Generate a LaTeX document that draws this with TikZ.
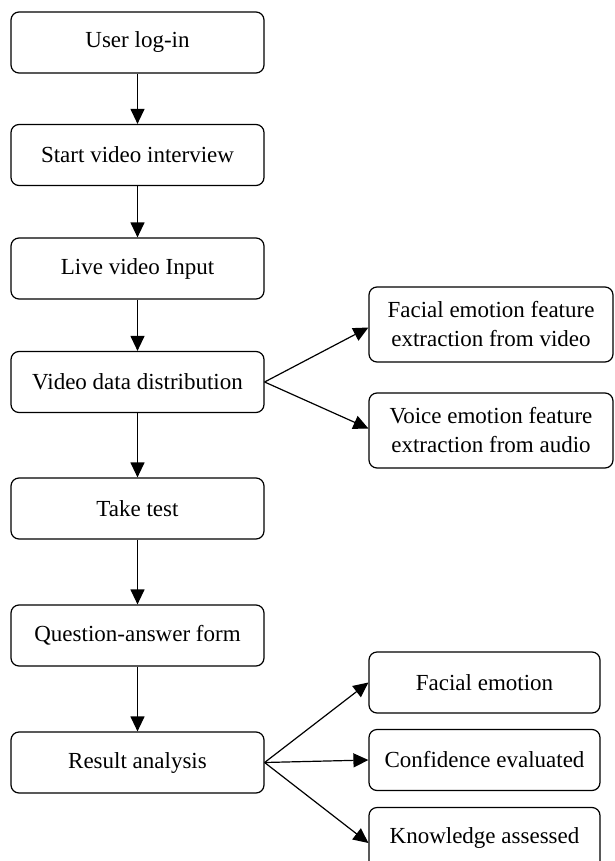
\documentclass[tikz,border=0pt]{standalone}
\usepackage{fontspec}
\setmainfont{Liberation Serif}
\usetikzlibrary{arrows.meta}
\begin{document}
\begin{tikzpicture}[x=1pt,y=-1pt,
  box/.style={draw, line width=1.2pt, rounded corners=8pt, inner sep=0pt,
    align=center, font=\fontsize{23}{29}\selectfont},
  mainbox/.style={box, minimum width=253pt, minimum height=61pt},
  sidebox/.style={box, minimum width=231pt, minimum height=61pt},
  widebox/.style={box, minimum width=244pt, minimum height=75pt},
  link/.style={line width=1.2pt, -{Triangle[length=15pt,width=14pt]}}]
\useasboundingbox (0,0) rectangle (615,861);

% main sequence
\node[mainbox] (login)  at (137.5,42.5)  {User log-in};
\node[mainbox] (start)  at (137.5,155)   {Start video interview};
\node[mainbox] (live)   at (137.5,268.5) {Live video Input};
\node[mainbox] (dist)   at (137.5,382)   {Video data distribution};
\node[mainbox] (test)   at (137.5,508.5) {Take test};
\node[mainbox] (qa)     at (137.5,635.5) {Question-answer form};
\node[mainbox] (result) at (137.5,762.5) {Result analysis};

% feature extraction branches
\node[widebox] (face)  at (491,324.5) {Facial emotion feature\\extraction from video};
\node[widebox] (voice) at (491,430.5) {Voice emotion feature\\extraction from audio};

% outcomes of the analysis
\node[sidebox] (femo) at (484.5,682.5) {Facial emotion};
\node[sidebox] (conf) at (484.5,760)   {Confidence evaluated};
\node[sidebox] (know) at (484.5,838)   {Knowledge assessed};

\draw[link] (login) -- (start);
\draw[link] (start) -- (live);
\draw[link] (live) -- (dist);
\draw[link] (dist) -- (test);
\draw[link] (test) -- (qa);
\draw[link] (qa) -- (result);

\draw[link] (dist.east) -- ([yshift=-3pt]face.west);
\draw[link] (dist.east) -- ([yshift=2pt]voice.west);

\draw[link] (result.east) -- (femo.west);
\draw[link] (result.east) -- (conf.west);
\draw[link] (result.east) -- ([yshift=-5pt]know.west);
\end{tikzpicture}
\end{document}
